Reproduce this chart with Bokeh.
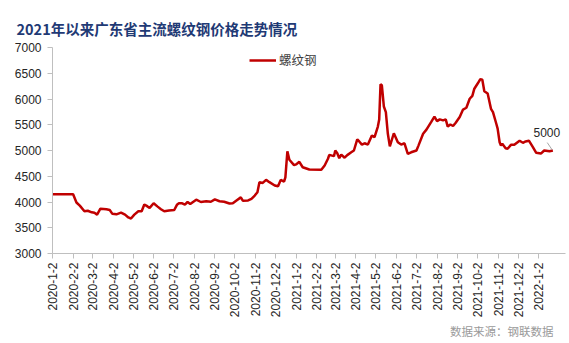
import math
import pandas as pd
from bokeh.plotting import figure
from bokeh.models import Range1d, FixedTicker, Title, Legend, LegendItem
from bokeh.core.properties import value
from bokeh.embed import file_html
from bokeh.resources import INLINE

title_text = "2021年以来广东省主流螺纹钢价格走势情况"
series_name = "螺纹钢"
source_text = "数据来源：钢联数据"

dates = [
    "2020-01-02", "2020-02-02", "2020-02-07", "2020-02-12", "2020-02-19", "2020-02-24",
    "2020-03-01", "2020-03-05", "2020-03-09", "2020-03-14", "2020-03-23", "2020-03-28",
    "2020-04-01", "2020-04-07", "2020-04-14", "2020-04-20", "2020-04-25", "2020-04-29",
    "2020-05-04", "2020-05-10", "2020-05-15", "2020-05-19", "2020-05-22", "2020-05-27",
    "2020-06-02", "2020-06-08", "2020-06-13", "2020-06-18", "2020-06-25", "2020-07-03",
    "2020-07-07", "2020-07-10", "2020-07-15", "2020-07-19", "2020-07-23", "2020-07-27",
    "2020-08-05", "2020-08-12", "2020-08-20", "2020-08-27", "2020-09-02", "2020-09-09",
    "2020-09-16", "2020-09-24", "2020-09-29", "2020-10-04", "2020-10-11", "2020-10-14",
    "2020-10-22", "2020-10-27", "2020-11-01", "2020-11-05", "2020-11-08", "2020-11-13",
    "2020-11-18", "2020-11-23", "2020-12-01", "2020-12-06", "2020-12-10", "2020-12-15",
    "2020-12-17", "2020-12-20", "2020-12-23", "2020-12-30", "2021-01-02", "2021-01-07",
    "2021-01-12", "2021-01-22", "2021-02-09", "2021-02-14", "2021-02-19", "2021-02-21",
    "2021-02-28", "2021-03-02", "2021-03-05", "2021-03-08", "2021-03-11", "2021-03-16",
    "2021-03-20", "2021-03-26", "2021-03-30", "2021-04-04", "2021-04-07", "2021-04-11",
    "2021-04-15", "2021-04-20", "2021-04-26", "2021-04-30", "2021-05-05", "2021-05-07",
    "2021-05-09", "2021-05-11", "2021-05-14", "2021-05-17", "2021-05-20", "2021-05-23",
    "2021-05-29", "2021-06-04", "2021-06-09", "2021-06-14", "2021-06-19", "2021-06-24",
    "2021-07-02", "2021-07-05", "2021-07-12", "2021-07-17", "2021-07-24", "2021-07-29",
    "2021-08-02", "2021-08-06", "2021-08-11", "2021-08-15", "2021-08-18", "2021-08-22",
    "2021-08-26", "2021-08-30", "2021-09-05", "2021-09-10", "2021-09-15", "2021-09-20",
    "2021-09-24", "2021-09-27", "2021-10-02", "2021-10-06", "2021-10-09", "2021-10-12",
    "2021-10-17", "2021-10-22", "2021-10-25", "2021-10-30", "2021-11-01", "2021-11-04",
    "2021-11-06", "2021-11-08", "2021-11-13", "2021-11-16", "2021-11-21", "2021-11-26",
    "2021-12-04", "2021-12-09", "2021-12-13", "2021-12-18", "2021-12-24", "2021-12-29",
    "2022-01-05", "2022-01-10", "2022-01-18", "2022-01-23",
]

prices = [
    4150, 4150, 3990, 3930, 3820, 3830,
    3800, 3790, 3755, 3870, 3860, 3845,
    3770, 3760, 3795, 3755, 3700, 3680,
    3755, 3820, 3820, 3950, 3930, 3885,
    3975, 3910, 3860, 3820, 3835, 3845,
    3945, 3975, 3975, 3950, 4000, 3960,
    4045, 4000, 4015, 4005, 4050, 4015,
    4005, 3970, 3975, 4025, 4090, 4025,
    4030, 4060, 4125, 4190, 4385, 4370,
    4430, 4385, 4320, 4305, 4430, 4395,
    4480, 4985, 4820, 4715, 4730, 4780,
    4675, 4630, 4625, 4710, 4840, 4915,
    4890, 5000, 4945, 4850, 4920, 4860,
    4910, 4965, 5000, 5215, 5175, 5115,
    5140, 5115, 5290, 5260, 5465, 5600,
    6285, 6265, 5855, 5745, 5325, 5080,
    5335, 5160, 5115, 5140, 4935, 4965,
    5000, 5095, 5325, 5405, 5550, 5660,
    5570, 5605, 5585, 5605, 5465, 5505,
    5475, 5540, 5650, 5795, 5830, 6005,
    6060, 6200, 6300, 6385, 6375, 6150,
    6105, 5810, 5745, 5520, 5425, 5160,
    5095, 5130, 5045, 5035, 5110, 5110,
    5190, 5150, 5175, 5190, 5065, 4955,
    4940, 5000, 4985, 5000,
]

tick_labels = [
    "2020-1-2", "2020-2-2", "2020-3-2", "2020-4-2", "2020-5-2", "2020-6-2",
    "2020-7-2", "2020-8-2", "2020-9-2", "2020-10-2", "2020-11-2", "2020-12-2",
    "2021-1-2", "2021-2-2", "2021-3-2", "2021-4-2", "2021-5-2", "2021-6-2",
    "2021-7-2", "2021-8-2", "2021-9-2", "2021-10-2", "2021-11-2", "2021-12-2",
    "2022-1-2",
]

y_ticks = [3000, 3500, 4000, 4500, 5000, 5500, 6000, 6500, 7000]

origin = pd.Timestamp("2020-01-02")
x = [(pd.Timestamp(d) - origin).days for d in dates]
tick_pos = [(pd.Timestamp(t) - origin).days for t in tick_labels]

W, H = 569, 343
ML, MR, MT, MB = 52, 4, 47, 90
x_end = 771
frame_w = W - ML - MR
frame_h = H - MT - MB

p = figure(width=W, height=H, output_backend="svg", toolbar_location=None,
           x_range=Range1d(0, x_end), y_range=Range1d(y_ticks[0], y_ticks[-1]),
           min_border_left=ML, min_border_right=MR, min_border_top=MT, min_border_bottom=MB)
p.outline_line_color = None
p.xgrid.visible = False
p.ygrid.visible = False
p.background_fill_color = "white"
p.border_fill_color = "white"

axis_color = "#BFBFBF"
label_color = "#262626"

xa = p.xaxis[0]
xa.ticker = FixedTicker(ticks=tick_pos)
xa.major_label_overrides = {tp: lab for tp, lab in zip(tick_pos, tick_labels)}
xa.major_label_orientation = math.pi / 2
xa.axis_line_color = axis_color
xa.major_tick_line_color = axis_color
xa.major_tick_out = 5
xa.major_tick_in = 0
xa.minor_tick_line_color = None
xa.major_label_standoff = 4
xa.major_label_text_font = "Liberation Sans"
xa.major_label_text_font_size = "12px"
xa.major_label_text_color = label_color

ya = p.yaxis[0]
ya.ticker = FixedTicker(ticks=y_ticks)
ya.axis_line_color = axis_color
ya.major_tick_line_color = axis_color
ya.major_tick_out = 5
ya.major_tick_in = 0
ya.minor_tick_line_color = None
ya.major_label_standoff = 6
ya.major_label_text_font = "Liberation Sans"
ya.major_label_text_font_size = "12px"
ya.major_label_text_color = label_color

r = p.line(x, prices, line_color="#C00000", line_width=2.5)

legend = Legend(items=[LegendItem(label=series_name, renderers=[r])],
                location=(197, 184), orientation="horizontal",
                glyph_width=27, glyph_height=12, label_height=12, label_standoff=3,
                padding=0, margin=0, spacing=0,
                border_line_color=None, background_fill_alpha=0,
                label_text_font="Noto Sans CJK SC", label_text_font_size="12.5px",
                label_text_color="#404040")
p.add_layout(legend)

# data label for the last value with a leader line
px_per_day = frame_w / x_end
px_per_val = frame_h / (y_ticks[-1] - y_ticks[0])
p.segment(x0=[x[-1] - 5.6 / px_per_day], y0=[prices[-1] + 7.9 / px_per_val],
          x1=[x[-1] - 0.6 / px_per_day], y1=[prices[-1] + 0.5 / px_per_val],
          line_color="#A6A6A6", line_width=1)
p.text(x=[x[-1]], y=[prices[-1]], text=[str(prices[-1])], x_offset=-6, y_offset=-18.5,
       text_align="center", text_baseline="middle", text_font=value("Liberation Sans"),
       text_font_size="12px", text_color=label_color)

p.title = Title(text=title_text, align="left", offset=16 - ML, standoff=17,
                text_font="Noto Sans CJK SC", text_font_style="bold",
                text_font_size="14.5px", text_color="#1F3A75")

source = Title(text=source_text, align="right", offset=12, standoff=0,
               text_font="Noto Sans CJK SC", text_font_style="normal",
               text_font_size="11.5px", text_color="#9A9A9A")
p.add_layout(source, "below")

open("out.html", "w").write(file_html(p, INLINE))
